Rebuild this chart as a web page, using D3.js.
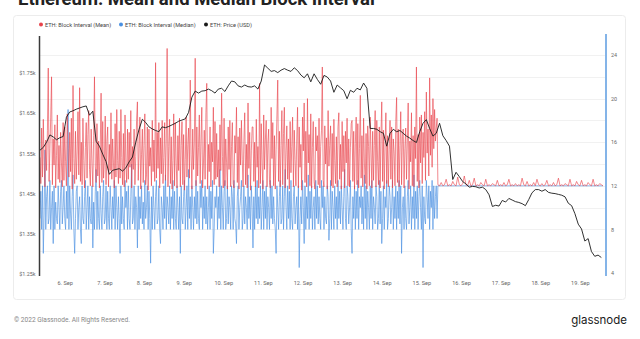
<!DOCTYPE html>
<html><head><meta charset="utf-8">
<script src="https://cdn.jsdelivr.net/npm/d3@7"></script>
<style>
html,body{margin:0;padding:0;background:#fff;}
svg{display:block;font-family:"Roboto","Liberation Sans",Arial,sans-serif;}
</style></head>
<body>
<svg id="chart" width="640" height="339"></svg>
<script>
// ---- data ----
const seriesNames = ["ETH: Block Interval (Mean)", "ETH: Block Interval (Median)", "ETH: Price (USD)"];
const startHour = Date.UTC(2022, 8, 5, 9);   // series start
const mergeHour = 241;                        // hours after start where post-merge hourly data begins
const xTickDates = ["2022-09-06","2022-09-07","2022-09-08","2022-09-09","2022-09-10","2022-09-11","2022-09-12","2022-09-13","2022-09-14","2022-09-15","2022-09-16","2022-09-17","2022-09-18","2022-09-19"];
const leftTicks = [1250, 1350, 1450, 1550, 1650, 1750];
const rightTicks = [4, 8, 12, 16, 20, 24];

// mean block interval (s), pre-merge, every 30 min
const meanPre = [
14.6,12.2,17.3,12.8,18.1,14.1,11.9,16.2,13.4,17.1,22.8,12.4,15.4,18.3,22.0,12.1,16.3,13.9,17.6,11.8,14.8,18.5,12.6,15.7,
12.3,16.9,14.1,11.9,17.8,12.5,17.4,14.2,12.0,18.6,15.4,12.8,16.9,13.3,18.2,11.7,21.2,14.5,12.2,17.0,12.6,15.1,18.8,13.0,
21.0,12.4,16.0,12.1,18.2,14.3,11.8,15.5,17.8,12.7,16.7,18.9,13.5,12.0,17.2,14.0,11.9,16.6,22.0,13.8,12.3,17.7,12.9,16.1,
11.8,15.5,20.5,12.3,17.9,12.7,14.2,18.4,12.1,16.1,17.4,11.9,15.8,13.4,18.7,12.6,16.3,14.1,11.8,17.7,12.8,19.0,14.3,12.2,
17.0,12.7,19.0,14.6,12.1,16.8,11.9,18.5,14.0,12.3,17.2,12.6,16.9,13.7,18.9,11.8,15.6,13.5,17.2,12.1,14.7,18.0,19.7,12.5,
15.4,18.3,11.7,14.9,17.2,12.3,15.7,18.6,12.1,13.0,17.4,11.6,17.2,13.8,15.5,12.0,18.0,13.3,16.2,12.4,23.3,12.7,16.9,13.6,
17.8,11.8,16.4,13.1,18.0,12.2,14.6,17.8,12.5,16.3,24.6,11.9,15.6,18.1,12.2,16.5,11.7,14.3,18.6,12.0,17.8,14.0,11.8,16.6,
13.4,18.2,11.9,15.7,17.9,12.1,16.7,11.6,14.4,18.3,12.8,15.8,17.3,12.7,21.7,14.9,11.7,17.2,13.5,16.0,23.7,12.0,17.4,12.9,
15.5,18.5,12.2,16.1,19.2,11.8,14.0,17.1,12.6,18.7,21.4,11.7,15.8,13.3,17.4,11.9,16.0,14.2,19.2,12.1,17.9,12.6,16.8,12.8,
15.3,11.9,17.6,13.4,20.5,14.7,11.8,18.2,12.0,16.3,14.1,11.7,17.4,13.5,18.0,11.9,15.6,17.8,12.2,11.8,16.6,15.0,19.2,12.3,
16.5,11.7,17.3,13.9,18.0,14.4,11.9,16.1,18.7,12.1,15.8,11.8,19.6,13.6,16.9,11.6,15.2,17.4,17.4,12.4,16.0,11.9,18.1,13.7,
15.6,11.8,21.4,12.2,17.7,14.0,11.7,18.5,13.5,16.2,18.0,11.9,15.9,17.2,12.3,11.8,19.2,14.5,17.8,12.0,16.6,11.7,15.3,18.4,
21.7,12.4,17.0,11.9,15.7,18.9,12.1,16.8,19.2,11.8,15.2,17.5,12.6,16.3,11.7,17.9,13.2,15.6,18.3,11.9,17.1,14.4,12.0,16.3,
19.2,11.8,17.4,13.7,15.8,11.6,18.3,15.2,19.6,12.3,17.0,11.9,20.0,14.1,16.7,12.0,18.6,11.8,15.5,17.9,12.4,11.7,17.4,15.2,
16.6,12.1,18.2,11.8,15.6,17.1,22.9,12.5,11.9,17.5,14.0,16.4,11.7,18.9,13.8,15.7,17.5,12.0,16.8,11.8,18.1,14.3,12.2,16.5,
11.9,17.4,18.7,12.6,15.8,11.7,17.9,13.3,16.6,11.8,17.0,14.1,18.2,12.0,16.3,11.9,15.5,17.7,18.0,12.4,17.0,11.7,15.9,18.3,
12.1,17.7,11.8,15.4,20.3,12.7,16.6,11.9,18.2,14.0,12.2,16.8,11.7,17.5,15.6,12.0,18.3,15.1,11.8,17.0,12.5,15.7,18.9,11.9,
18.0,14.2,12.1,17.4,11.8,16.5,19.7,12.4,17.1,11.7,15.8,18.7,12.2,16.6,11.9,15.3,18.0,12.6,17.4,11.8,16.3,15.0,12.0,17.9,
20.1,12.3,17.2,11.9,15.7,18.8,12.1,16.5,17.2,11.8,15.4,17.3,12.6,16.0,19.6,11.7,16.1,14.2,18.7,12.0,16.6,11.9,17.4,14.5,
22.9,12.4,16.7,11.8,18.3,14.1,18.5,12.2,16.9,14.6,18.8,12.5,20.6,15.0,17.2,12.9,21.9,14.8,18.5,13.7,20.0,15.4,19.0,16.1,
17.3,18.2
];

// mean block interval (s), post-merge, hourly
const meanPost = [
12.1,12.0,12.3,12.0,12.1,12.6,12.0,12.1,12.0,12.4,
12.1,12.0,12.8,12.1,12.0,12.2,12.9,12.1,12.0,12.5,
12.0,12.1,12.7,12.0,12.1,12.0,12.3,12.1,12.0,12.6,
12.0,12.1,12.0,12.2,12.1,12.0,12.5,12.0,12.1,12.0,
12.3,12.0,12.1,12.6,12.0,12.1,12.0,12.2,12.0,12.1,
12.0,12.7,12.1,12.0,12.4,12.0,12.1,12.0,12.3,12.0,
12.6,12.1,12.0,12.2,12.0,12.1,12.5,12.0,12.1,12.0,
12.3,12.0,12.1,12.7,12.0,12.1,12.0,12.2,12.1,12.0,
12.6,12.0,12.1,12.0,12.4,12.1,12.0,12.5,12.0,12.1,
12.0,12.3,12.1,12.0,12.6,12.0,12.1,12.0,12.2,12.1,
12.0
];

// median block interval (s), pre-merge, every 30 min
const medianPre = [
9,11.5,8,12,5.8,9.5,15.3,8,11,12,8.5,9,12.5,8,10,11.5,6.7,12,8,10.5,9,8.5,12,10,
8,11.5,12.5,8.5,10,12,9,8,11.5,9,19,8,12,9.5,8,11,13,8,5.8,9,11.5,12,8,10,
11,8,6.7,12,9,8.5,11,12.5,8,10,12,8,11,9,8.5,12,6.3,10.5,8,11.5,13.5,8,11.5,9,
8,12,9.5,8,11,12.5,8.5,9,12,8,11.5,9,8,12,10,8,11,9,12.5,8,12,10,8,11,
9,5.8,12,8.5,11,9,8,12.5,10,11.5,8,12,9,8,11,14,8.5,9,12,8,11,10,6.3,12,
8,11,9,12,8.5,10.5,8,12.5,9,10,12,8,11.5,9,4.9,11,8,12,10,8,11,12.5,8.5,9,
12,8,6.7,11,10,8,12,9,13,8,11,10,8.5,12,8,11,9,12.5,8,11.5,9,8,12,10,
8,11,5.8,12,9,8.5,11,12.5,8,10,12,8,13.5,9,11,8,12,10,8,11,9,12.5,8.5,11.5,
9,8,12,10,12.5,8,11,9,12,8.5,11,8,10,12,8,11.5,9,12.5,5.8,8,11,10,12,8,
11,9,13.5,8,12,10,8,11.5,12.5,8,9,12,8.5,11,10,8,12,11,8,12.5,9,8.5,6.7,11,
12,8,10,11,12.5,8,9,12,8.5,11,10,8,13,9,11,8,12,10,6.3,11,8,12,9,12.5,
8.5,11,9,12,8,10,12.5,8,11.5,9,12,8,11,10,8,12.5,9,12,8.5,11,9,8,5.8,12,
10,8,11,12.5,8.5,9,12,8,11,13.5,10,8,12,9,11.5,8,12.5,9,8,11,12,8.5,10,11,
8,12,4.5,9,11,8.5,12.5,10,6.7,12,8,11,9,13,8,11.5,9,12,8,10,11,8,12.5,9,
12,8.5,11,9,8,12.5,10,12,8,11,9,8.5,12,11,7,9,12.5,8,11.5,10,8,12,9,11,
8,12.5,9,11.5,8.5,12,10,8,11,13.5,9,8,12,11,8.5,10,12.5,8,5.8,11,9,12,8,11.5,
9,12.5,8,11,10,12,8.5,11,8,13,9,12,8,11.5,10,8,12,9,12.5,8,11,10,8.5,12,
11,8,9,12.5,8.5,11.5,6.7,9,12,8,11,10,12.5,8,9,12,11,8.5,10,12.5,8,11,9,12,
8,11.5,9,12.5,8.5,12,5.8,10,11,8,12,9,8,11,12.5,8.5,10,12,8,11,9,13,8,11.5,
9,12,8,11,12.5,10,8,12,4.5,11,9,8.5,12.5,11,9,12,8,11.5,10,12.5,8,12,9,11,
12,9
];

// median block interval (s), post-merge, hourly
const medianPost = [
12,12,12,12,12,12,12,12,12,12,
12,12,12,12,12,12,12,12,12,12,
12,12,12,12,12,12,12,12,12,12,
12,12,12,12,12,12,12,12,12,12,
12,12,12,12,12,12,12,12,12,12,
12,12,12,12,12,12,12,12,12,12,
12,12,12,12,12,12,12,12,12,12,
12,12,12,12,12,12,12,12,12,12,
12,12,12,12,12,12,12,12,12,12,
12,12,12,12,12,12,12,12,12,12,
12
];

// ETH price (USD), every 2 hours
const priceValues = [
1558,1565,1578,1596,1591,1584,1589,1592,1640,1653,1656,1660,1663,1666,1668,1645,1655,1580,1568,1548,
1530,1498,1508,1510,1512,1506,1514,1529,1541,1578,1610,1635,1627,1616,1611,1607,1604,1616,1614,1617,
1621,1625,1630,1633,1636,1652,1690,1705,1700,1705,1706,1710,1706,1700,1710,1712,1704,1718,1730,1728,
1718,1715,1720,1716,1715,1718,1710,1730,1770,1762,1754,1756,1751,1757,1761,1757,1754,1763,1756,1745,
1738,1748,1728,1748,1734,1722,1744,1740,1730,1702,1720,1713,1706,1686,1707,1702,1712,1708,1725,1712,
1612,1612,1610,1604,1600,1568,1600,1610,1604,1607,1600,1593,1588,1582,1577,1604,1625,1634,1612,1593,
1600,1625,1594,1582,1568,1485,1503,1492,1480,1474,1466,1468,1467,1464,1466,1460,1447,1418,1421,1419,
1433,1429,1438,1434,1430,1428,1425,1420,1435,1452,1460,1460,1456,1460,1453,1451,1450,1448,1446,1442,
1426,1420,1400,1374,1362,1332,1338,1306,1294,1297,1291
];

const colors = ["#e8434b", "#4a90e2", "#1a1a1a"];

// ---- chart ----
const svg = d3.select("#chart");
const H = 3600e3;
const x = d3.scaleUtc().domain([new Date(startHour), new Date(startHour + 341 * H)]).range([40, 603]);
const yL = d3.scaleLinear().domain([1250, 1750]).range([274, 73]);
const yR = d3.scaleLinear().domain([4, 24]).range([273, 55]);

// title (cut off at top, as in the source image)
svg.append("text").attr("x", 18).attr("y", 5).attr("font-size", 18.5).attr("font-weight", 700)
  .attr("fill", "#222").text("Ethereum: Mean and Median Block Interval");

// card
svg.append("rect").attr("x", 13.5).attr("y", 15.5).attr("width", 612).attr("height", 284)
  .attr("rx", 3).attr("fill", "#fff").attr("stroke", "#ececec");

// gridlines
svg.append("g").selectAll("line").data(d3.range(6, 26, 2)).join("line")
  .attr("x1", 40).attr("x2", 605).attr("y1", d => Math.round(yR(d)) + 0.5).attr("y2", d => Math.round(yR(d)) + 0.5)
  .attr("stroke", "#f1f1f1").attr("stroke-width", 1);

// legend
const legX = [41, 121, 206];
const leg = svg.append("g");
seriesNames.forEach((n, i) => {
  leg.append("circle").attr("cx", legX[i]).attr("cy", 24.5).attr("r", 2).attr("fill", colors[i]);
  leg.append("text").attr("x", legX[i] + 4).attr("y", 26.5).attr("font-size", 5.6).attr("fill", "#444").text(n);
});

// build time-stamped points
const toPts = (pre, post) => pre.map((v, i) => [new Date(startHour + i * 0.5 * H), v])
  .concat(post.map((v, i) => [new Date(startHour + (mergeHour + i) * H), v]));
const meanPts = toPts(meanPre, meanPost);
const medianPts = toPts(medianPre, medianPost);
const pricePts = priceValues.map((v, i) => [new Date(startHour + i * 2 * H), v]);

const lineR = d3.line().x(d => x(d[0])).y(d => yR(d[1]));
const lineL = d3.line().x(d => x(d[0])).y(d => yL(d[1]));

svg.append("path").attr("d", lineR(medianPts)).attr("fill", "none")
  .attr("stroke", colors[1]).attr("stroke-width", 0.9).attr("stroke-opacity", 0.72).attr("stroke-linejoin", "round");
svg.append("path").attr("d", lineR(meanPts)).attr("fill", "none")
  .attr("stroke", colors[0]).attr("stroke-width", 0.9).attr("stroke-opacity", 0.7).attr("stroke-linejoin", "round");
svg.append("path").attr("d", lineL(pricePts)).attr("fill", "none")
  .attr("stroke", colors[2]).attr("stroke-width", 0.9).attr("stroke-linejoin", "round");

// left axis
const gL = svg.append("g").attr("transform", "translate(39.5,0)")
  .call(d3.axisLeft(yL).tickValues(leftTicks).tickSize(0).tickPadding(4)
    .tickFormat(d => "$" + (d / 1000).toFixed(2) + "k"));
gL.select(".domain").remove();
gL.append("line").attr("x1", 0).attr("x2", 0).attr("y1", 36).attr("y2", 276).attr("stroke", "#3a3a3a").attr("stroke-width", 1.5);
gL.selectAll("text").attr("font-size", 5.4).attr("fill", "#666").attr("font-family", "Roboto, sans-serif");

// right axis
const gR = svg.append("g").attr("transform", "translate(606,0)")
  .call(d3.axisRight(yR).tickValues(rightTicks).tickSize(0).tickPadding(5).tickFormat(d3.format("d")));
gR.select(".domain").remove();
gR.append("line").attr("x1", 0).attr("x2", 0).attr("y1", 34).attr("y2", 276).attr("stroke", "#5b9be0").attr("stroke-width", 1.5);
gR.selectAll("text").attr("font-size", 5.4).attr("fill", "#666").attr("font-family", "Roboto, sans-serif");

// x axis
const gX = svg.append("g").attr("transform", "translate(0,279)")
  .call(d3.axisBottom(x).tickValues(xTickDates.map(s => new Date(s + "T00:00:00Z"))).tickSize(0).tickPadding(2)
    .tickFormat(d3.utcFormat("%-d. %b")));
gX.select(".domain").remove();
gX.selectAll("text").attr("font-size", 5.6).attr("fill", "#666").attr("font-family", "Roboto, sans-serif");

// footer
svg.append("text").attr("x", 14).attr("y", 322).attr("font-size", 6.6).attr("fill", "#888").text("© 2022 Glassnode. All Rights Reserved.");
svg.append("text").attr("x", 627).attr("y", 324).attr("text-anchor", "end").attr("font-size", 11.5)
  .attr("fill", "#1a1a1a").attr("font-family", "Inter, Roboto, sans-serif").text("glassnode");
</script>
</body></html>
